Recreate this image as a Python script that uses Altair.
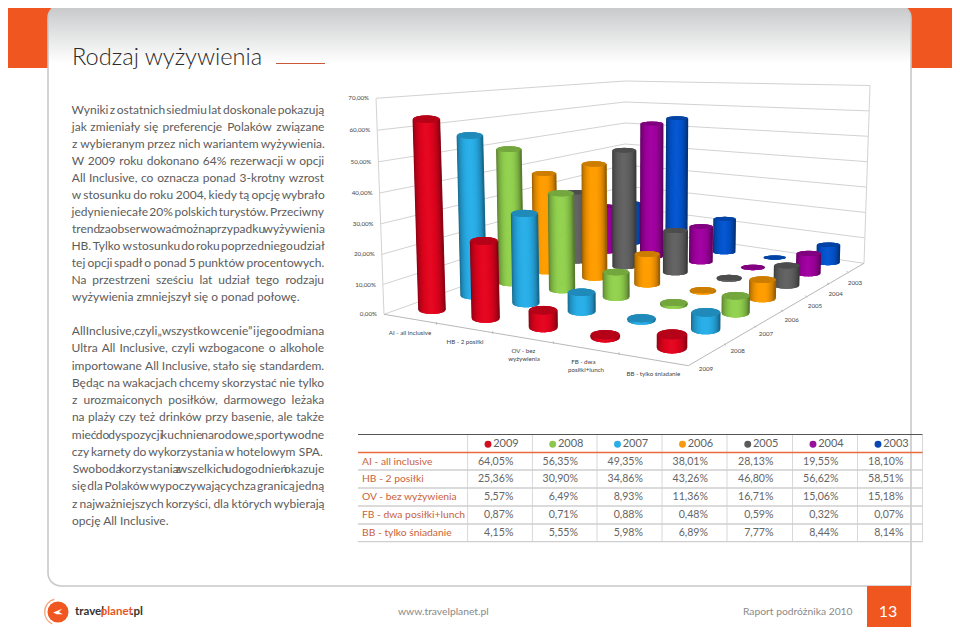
import altair as alt
import numpy as np
import pandas as pd

# ---------------- data ----------------
YEARS = [2009, 2008, 2007, 2006, 2005, 2004, 2003]
ROWS = ["AI - all inclusive", "HB - 2 posiłki", "OV - bez wyżywienia", "FB - dwa posiłki+lunch", "BB - tylko śniadanie"]
AI = [64.05, 56.35, 49.35, 38.01, 28.13, 19.55, 18.10]
HB = [25.36, 30.90, 34.86, 43.26, 46.80, 56.62, 58.51]
OV = [5.57, 6.49, 8.93, 11.36, 16.71, 15.06, 15.18]
FB = [0.87, 0.71, 0.88, 0.48, 0.59, 0.32, 0.07]
BB = [4.15, 5.55, 5.98, 6.89, 7.77, 8.44, 8.14]
SERIES = [AI, HB, OV, FB, BB]
BAR_COLORS = ["#e4051f", "#29aee8", "#92d14f", "#ff9d00", "#626262", "#a000a0", "#0455cf"]
LEGEND_COLORS = ["#d0101f", "#8cc850", "#29aee8", "#f79a10", "#5a5a5a", "#96109a", "#0a46b0"]
AXIS_TICKS = [0, 10, 20, 30, 40, 50, 60, 70]
CAT_LABELS = [["AI - all inclusive"], ["HB - 2 posiłki"], ["OV - bez", "wyżywienia"], ["FB - dwa", "posiłki+lunch"], ["BB - tylko śniadanie"]]
P1 = ["Wyniki z ostatnich siedmiu lat doskonale pokazują",
      "jak zmieniały się preferencje Polaków związane",
      "z wybieranym przez nich wariantem wyżywienia.",
      "W 2009 roku dokonano 64% rezerwacji w opcji",
      "All Inclusive, co oznacza ponad 3-krotny wzrost",
      "w stosunku do roku 2004, kiedy tą opcję wybrało",
      "jedynie niecałe 20% polskich turystów. Przeciwny",
      "trend zaobserwować można przypadku wyżywienia",
      "HB. Tylko w stosunku do roku poprzedniego udział",
      "tej opcji spadł o ponad 5 punktów procentowych.",
      "Na przestrzeni sześciu lat udział tego rodzaju",
      "wyżywienia zmniejszył się o ponad połowę."]
P2 = ["All Inclusive, czyli „wszystko w cenie” i jego odmiana",
      "Ultra All Inclusive, czyli wzbogacone o alkohole",
      "importowane All Inclusive, stało się standardem.",
      "Będąc na wakacjach chcemy skorzystać nie tylko",
      "z urozmaiconych posiłków, darmowego leżaka",
      "na plaży czy też drinków przy basenie, ale także",
      "mieć do dyspozycji kuchnie narodowe, sporty wodne",
      "czy karnety do wykorzystania w hotelowym SPA.",
      "Swoboda korzystania z wszelkich udogodnień okazuje",
      "się dla Polaków wypoczywających za granicą jedną",
      "z najważniejszych korzyści, dla których wybierają",
      "opcję All Inclusive."]

ORANGE = "#f0561f"

# ---------------- shared page scales (the page is drawn at an 8px offset) ----------------
SX = alt.Scale(domain=[8, 952], nice=False, zero=False)
SY = alt.Scale(domain=[627, 8], nice=False, zero=False)
def X(f="x"): return alt.X(f"{f}:Q", scale=SX, axis=None)
def Y(f="y"): return alt.Y(f"{f}:Q", scale=SY, axis=None)

def rect(x, y, x2, y2, **kw):
    d = pd.DataFrame([dict(x=x, y=y, x2=x2, y2=y2)])
    return alt.Chart(d).mark_rect(**kw).encode(X(), Y(), x2="x2:Q", y2="y2:Q")

def segs(rows, **kw):
    d = pd.DataFrame(rows, columns=["x", "y", "x2", "y2"])
    return alt.Chart(d).mark_rule(**kw).encode(X(), Y(), x2="x2:Q", y2="y2:Q")

def txt(rows, font="Lato", size=12, color="#555", align="left", **kw):
    d = pd.DataFrame(rows, columns=["x", "y", "t"])
    return alt.Chart(d).mark_text(font=font, fontSize=size, color=color, align=align, baseline="middle", **kw).encode(X(), Y(), text="t:N")

# ---------------- 3D projection ----------------
def homography(src, dst):
    A, b = [], []
    for (u, v), (px, py) in zip(src, dst):
        A.append([u, v, 1, 0, 0, 0, -u * px, -v * px]); b.append(px)
        A.append([0, 0, 0, u, v, 1, -u * py, -v * py]); b.append(py)
    return np.append(np.linalg.solve(np.array(A, float), np.array(b, float)), 1).reshape(3, 3)

H = homography([(0, 0), (4, 0), (4, 6), (0, 6)], [(432, 310), (672, 348), (828, 263), (631, 243)])
def floor(i, j):
    p = H @ np.array([i, j, 1.0])
    return p[0] / p[2], p[1] / p[2]

def bilin(i, j, a, b, c, d):  # front-left, front-right, back-left, back-right
    u, w = i / 4, j / 6
    return (a * (1 - u) + b * u) * (1 - w) + (c * (1 - u) + d * u) * w

def shade(hexc, f):
    rgb = np.array([int(hexc[k:k + 2], 16) for k in (1, 3, 5)], float)
    rgb = rgb * f if f <= 1 else rgb + (255 - rgb) * (f - 1)
    return "#%02x%02x%02x" % tuple(int(np.clip(round(v), 0, 255)) for v in rgb)

cyl = []
order = sorted(((floor(i, j)[1], i, j) for i in range(5) for j in range(7)))
for _, i, j in order:
    v = SERIES[i][j]
    xb, yb = floor(i, j)
    s = bilin(i, j, 2.98, 3.3, 2.2, 2.25)
    w = bilin(i, j, 26, 29, 20, 22)
    h = s * v
    yt = yb - h
    xt = xb + (xb - 635) * 1.46e-4 * h
    rb = max(0.038 * (yb - 206), 1.8)
    rt = 0.85 * rb + 0.3
    n = int(np.ceil(w / 0.5))
    for t in np.linspace(-1, 1, n):
        q = np.sqrt(max(0, 1 - t * t))
        f = 0.6 + 0.42 * (1 - t * t) ** 0.7
        cyl.append(dict(x=xb + t * w / 2, y=yb + rb * q, x2=xt + t * w / 2, y2=yt, c=shade(BAR_COLORS[j], f)))
    for t in np.linspace(-1, 1, n):
        q = np.sqrt(max(0, 1 - t * t))
        cyl.append(dict(x=xt + t * w / 2, y=yt - rt * q, x2=xt + t * w / 2, y2=yt + rt * q, c=shade(BAR_COLORS[j], 0.8)))
cyl = pd.DataFrame(cyl).round(2)
cyl_layer = alt.Chart(cyl).mark_rule(strokeWidth=1.6).encode(X(), Y(), x2="x2:Q", y2="y2:Q", color=alt.Color("c:N", scale=None))

# walls
def wl(v): return 384 - 0.114 * v, 314.3 - 2.96 * v - 0.0018 * v * v
def wb(v): return 625.0, 228 - 2.1 * v
def wr(v): return 864 + 0.086 * v, 263.3 - 2.54 * v
grid = []
for v in AXIS_TICKS:
    grid.append((*wl(v), *wb(v)))
    grid.append((*wb(v), *wr(v)))
grid.append((*wl(0), *wl(70)))
grid.append((*wr(0), *wr(70)))
FL, FR = (384, 314.3), (688.3, 365.7)
edges = [(*FL, *FR), (*FR, *wr(0))]
ticks = []
for k in range(1, 5):
    p = floor(k - 0.5, -0.5)
    ticks.append((p[0], p[1], p[0] + 0.5, p[1] + 2.5))
for k in range(1, 7):
    p = floor(4.5, k - 0.5)
    ticks.append((p[0], p[1], p[0] + 2, p[1] + 1.5))

ylab = [(wl(v)[0] - 7, wl(v)[1], f"{v},00%") for v in AXIS_TICKS]
cat_xy = [[(410, 332.7)], [(465, 341.7)], [(523.3, 351), (524, 359.3)], [(583.3, 361.7), (586, 370)], [(653.3, 374)]]
catlab = [(x, y, s) for pos, names in zip(cat_xy, CAT_LABELS) for (x, y), s in zip(pos, names)]
yr_xy = [(706, 369.3), (737.7, 351), (766, 334.3), (791.7, 319.7), (815, 306.3), (835.7, 294.3), (855, 283)]
yrlab = [(x, y, str(v)) for (x, y), v in zip(yr_xy, YEARS)]

# ---------------- justified body text ----------------
LATO = dict(a=.49, b=.56, c=.46, d=.56, e=.52, f=.33, g=.5, h=.55, i=.23, j=.23, k=.5, l=.23, m=.82, n=.55, o=.57,
            p=.56, q=.56, r=.37, s=.42, t=.35, u=.55, v=.49, w=.76, x=.49, y=.49, z=.45)
def cw(c):
    base = {"ą": "a", "ć": "c", "ę": "e", "ł": "l", "ń": "n", "ó": "o", "ś": "s", "ź": "z", "ż": "z"}.get(c, c)
    if base in LATO: return LATO[base]
    if c in ".,;:": return 0.23
    if c in "-„”": return 0.36
    if c.isdigit(): return 0.58
    if c == "%": return 0.82
    if c == "I": return 0.27
    if c == "W": return 1.0
    return 0.66

def layout(lines, x0, x1, y0, dy, size):
    out = []
    for k, line in enumerate(lines):
        words = line.split()
        y = y0 + k * dy
        wd = [sum(cw(c) for c in w) * size for w in words]
        if k == len(lines) - 1:
            out.append((x0, y, line)); continue
        gap = (x1 - x0 - sum(wd)) / (len(words) - 1)
        x = x0
        for w, d in zip(words, wd):
            out.append((x + d / 2, y, w))
            x += d + gap
    return out

body = layout(P1, 72, 324, 109.8, 17.05, 12) + layout(P2, 72, 324, 331, 17.25, 12)
last = [r for r in body if " " in r[2]]
mid = [r for r in body if " " not in r[2]]

# ---------------- table ----------------
VX = [467.6, 532.4, 597, 662, 727, 792.5, 857.5, 922.5]
HY = [470, 488, 506, 524, 541.7]
RY = [461.7, 479.3, 497.3, 515.3, 533.3]
vals = [(VX[c + 1] - 19, RY[r], f"{SERIES[r][c]:.2f}".replace(".", ",") + "%") for r in range(5) for c in range(7)]
rowlab = [(362, RY[r], ROWS[r]) for r in range(5)]
hdr = [((VX[c] + VX[c + 1]) / 2 + 6, 444.3, str(YEARS[c])) for c in range(7)]
dots = pd.DataFrame([dict(x=(VX[c] + VX[c + 1]) / 2 - 12, y=444.3, c=LEGEND_COLORS[c]) for c in range(7)])
dots_layer = alt.Chart(dots).mark_point(filled=True, size=48, opacity=1).encode(X(), Y(), color=alt.Color("c:N", scale=None))

# ---------------- page ----------------
grad = alt.Gradient(gradient="linear", x1=0, x2=0, y1=0, y2=1,
                    stops=[alt.GradientStop(color="#c6c7c9", offset=0), alt.GradientStop(color="#ffffff", offset=0.1), alt.GradientStop(color="#ffffff", offset=1)])
logo_pt = pd.DataFrame([dict(x=58, y=612)])
def arc(**kw):
    return alt.Chart(logo_pt).mark_arc(**kw).encode(X(), Y())

layers = [
    rect(0, 0, 952, 68, color=ORANGE),
    rect(48, 5, 911, 586, fill=grad, stroke="#c9c9c9", strokeWidth=1.6, cornerRadiusTopLeft=13, cornerRadiusTopRight=13, cornerRadiusBottomLeft=13),
    rect(867, 586, 911, 627, color=ORANGE),
    txt([(72, 58, "Rodzaj wyżywienia")], size=23.6, color="#2b2b2b", fontWeight=300),
    segs([(276, 63.5, 325, 63.5)], color="#c9573a", strokeWidth=1.2),
    txt(last, size=12, color="#5c5c5c"),
    txt(mid, size=12, color="#5c5c5c", align="center"),
    # 3-D chart
    segs(grid, color="#d2d2d2", strokeWidth=1),
    segs(edges + ticks, color="#b8b8b8", strokeWidth=1),
    txt(ylab, size=6.2, color="#444", align="right"),
    txt(catlab, size=6.2, color="#444", align="center"),
    txt(yrlab, size=6.2, color="#444", align="center"),
    cyl_layer,
    # table
    segs([(x, 435, x, 541.7) for x in VX], color="#d8d8d8", strokeWidth=1),
    segs([(358, y, 922.5, y) for y in HY], color="#cfcfcf", strokeWidth=1.3),
    segs([(358, 434.5, 922.5, 434.5)], color="#555555", strokeWidth=1.2),
    segs([(358, 452.5, 922.5, 452.5)], color="#ea6a3c", strokeWidth=1.5),
    dots_layer,
    txt(hdr, size=11, color="#5f5f5f", align="center"),
    txt(rowlab, size=10.3, color="#c9623c"),
    txt(vals, size=10.6, color="#666666", align="right"),
    # footer
    txt([(398, 612, "www.travelplanet.pl")], size=10.3, color="#888888"),
    txt([(743, 612, "Raport podróżnika 2010")], size=10.3, color="#8a8a8a"),
    txt([(888, 612, "13")], size=16, color="#ffffff", align="center"),
    # logo
    arc(color="#f7a27e", radius=14, radius2=12.6, theta=3.6, theta2=6.0),
    arc(color=ORANGE, radius=10.5, radius2=0, theta=0, theta2=6.2832),
    alt.Chart(logo_pt).mark_point(filled=True, color="white", opacity=1, size=90, shape="M-1,0.1 L0.9,-0.7 L0.2,0 L1,0.5 L-0.3,0.5 Z").encode(X(), Y()),
    txt([(75, 612, "travel")], size=11.5, color="#333333", fontWeight="bold"),
    txt([(100.7, 612, "planet")], size=11.5, color="#e8561f", fontWeight="bold"),
    txt([(130.7, 612, ".pl")], size=11.5, color="#333333", fontWeight="bold"),
]

chart = alt.layer(*layers).properties(width=944, height=619, padding=0, background="white",
                                      autosize=alt.AutoSizeParams(type="none")).configure_view(stroke=None)
chart.save("out.html", embed_options={"renderer": "svg", "actions": False})
